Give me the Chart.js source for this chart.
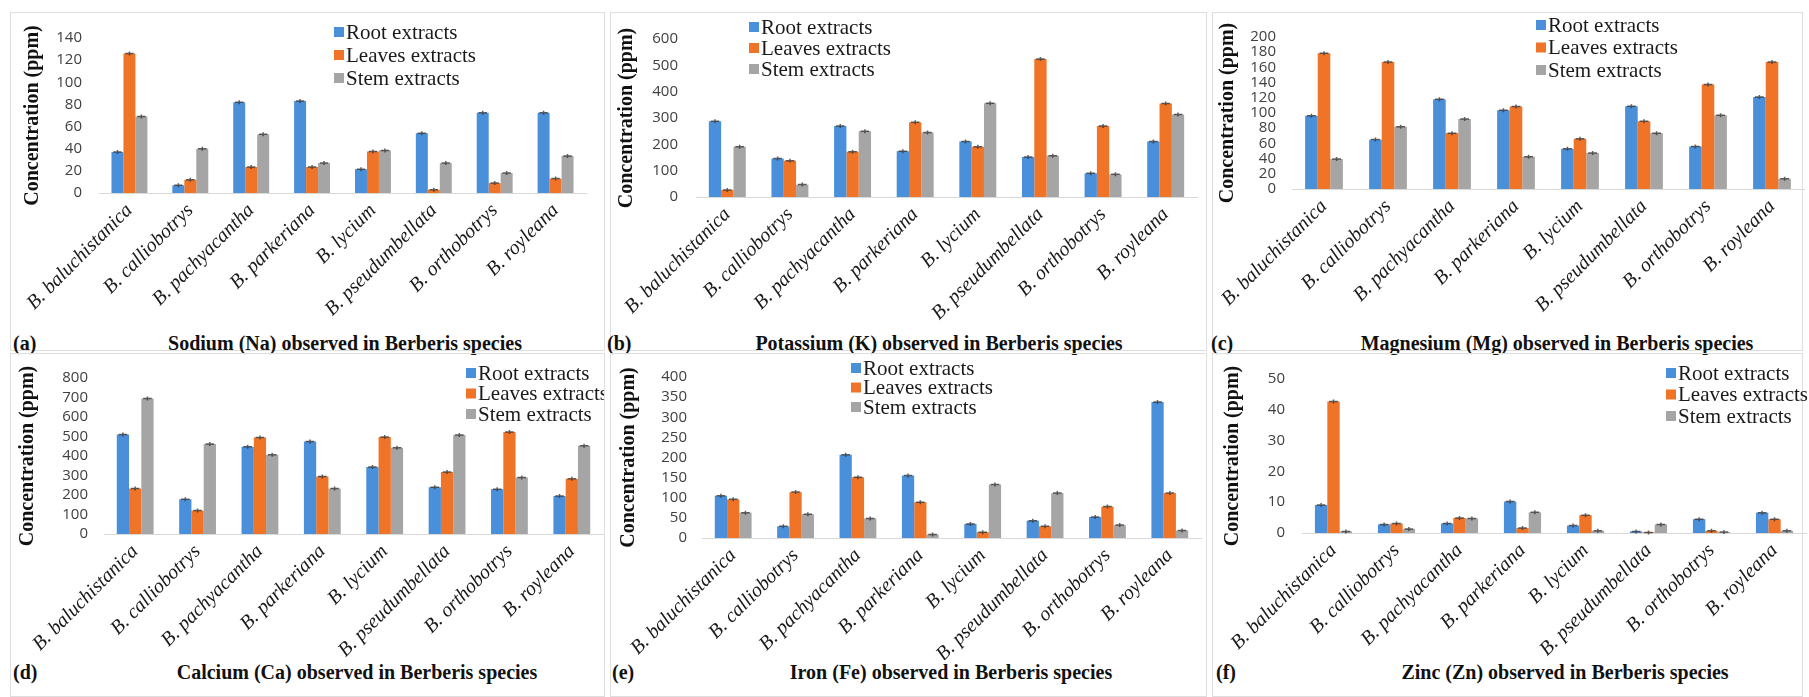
<!DOCTYPE html>
<html>
<head>
  <title>Minerals in Berberis species</title>
  <script src="https://cdn.jsdelivr.net/npm/chart.js"></script>
  <style>
    body { margin: 0; background: #fff; }
    #page { position: relative; width: 1809px; height: 697px; overflow: hidden; }
    .box { position: absolute; border: 1px solid #dedede; box-sizing: border-box; }
    .holder { position: absolute; }
    .cap { position: absolute; font: bold 20px "Liberation Serif", serif; color: #111; white-space: nowrap; transform: translateY(-50%); }
    .ttl { position: absolute; font: bold 20px "Liberation Serif", serif; color: #111; white-space: nowrap; transform: translate(-50%, -50%); }
  </style>
</head>
<body>
<div id="page"></div>
<script>
  // species on the x axis
  var species = ['B. baluchistanica', 'B. calliobotrys', 'B. pachyacantha', 'B. parkeriana',
                 'B. lycium', 'B. pseudumbellata', 'B. orthobotrys', 'B. royleana'];

  // Sodium (Na)
  var naRoot   = [37, 7, 82, 83, 21.5, 54, 72.5, 72.5];
  var naLeaves = [126, 12, 23.5, 23.5, 37.5, 3, 9, 13];
  var naStem   = [69, 40, 53, 27, 38.5, 27, 18, 33.5];

  // Potassium (K)
  var kRoot   = [288, 146, 270, 174, 211, 152, 90, 211];
  var kLeaves = [27, 138, 172, 284, 191, 524, 270, 355];
  var kStem   = [191, 47, 250, 245, 356, 157, 86, 313];

  // Magnesium (Mg)
  var mgRoot   = [96.5, 65, 118, 103.5, 53, 109, 56, 121];
  var mgLeaves = [178.5, 167, 73.5, 108.5, 66, 89, 137.5, 167];
  var mgStem   = [39.5, 82, 92, 42.5, 47.5, 73.5, 97, 13.5];

  // Calcium (Ca)
  var caRoot   = [510, 178, 448, 475, 343, 240, 230, 195];
  var caLeaves = [233, 120, 495, 295, 498, 318, 523, 283];
  var caStem   = [695, 462, 407, 233, 442, 508, 290, 453];

  // Iron (Fe)
  var feRoot   = [105, 29, 207, 155, 35, 43, 52, 338];
  var feLeaves = [96, 114, 151, 89, 14.5, 29, 78, 111.5];
  var feStem   = [63, 59, 48.5, 9, 133, 111.5, 32, 18.5];

  // Zinc (Zn)
  var znRoot   = [9.1, 2.8, 3.1, 10.2, 2.4, 0.5, 4.5, 6.6];
  var znLeaves = [42.7, 3.1, 4.9, 1.6, 5.8, 0.2, 0.7, 4.5];
  var znStem   = [0.5, 1.3, 4.7, 6.7, 0.7, 2.8, 0.3, 0.7];

  // y axis ranges: [max, step]
  var naAxis = [140, 20];
  var kAxis  = [600, 100];
  var mgAxis = [200, 20];
  var caAxis = [800, 100];
  var feAxis = [400, 50];
  var znAxis = [50, 10];

  var seriesNames = ['Root extracts', 'Leaves extracts', 'Stem extracts'];
  var colores = ['#4A8FD9', '#F07427', '#A5A5A5'];

  // legend drawn inside the plot, at a fixed spot (x, y given in canvas pixels)
  var cornerLegend = {
    id: 'cornerLegend',
    afterDraw: function(chart) {
      var o = chart.options.plugins.cornerLegend;
      if (!o) return;
      var ctx = chart.ctx;
      ctx.save();
      ctx.font = '21px "Liberation Serif"';
      ctx.textBaseline = 'middle';
      chart.data.datasets.forEach(function(ds, i) {
        var y = o.y + i * o.dy;
        ctx.fillStyle = ds.backgroundColor;
        ctx.fillRect(o.x, y - 5, 10, 10);
        ctx.fillStyle = '#1a1a1a';
        ctx.fillText(ds.label, o.x + 12, y + 1);
      });
      ctx.restore();
    }
  };

  // small dark error caps on top of every bar
  var barCaps = {
    id: 'barCaps',
    afterDatasetsDraw: function(chart) {
      var ctx = chart.ctx;
      ctx.save();
      ctx.strokeStyle = 'rgba(55,55,55,0.8)';
      ctx.lineWidth = 1.5;
      chart.data.datasets.forEach(function(ds, i) {
        chart.getDatasetMeta(i).data.forEach(function(bar) {
          var w = bar.width * 0.35;
          ctx.beginPath();
          ctx.moveTo(bar.x - w, bar.y);
          ctx.lineTo(bar.x + w, bar.y);
          ctx.moveTo(bar.x, bar.y - 2);
          ctx.lineTo(bar.x, bar.y + 2);
          ctx.stroke();
        });
      });
      ctx.restore();
    }
  };

  var page = document.getElementById('page');

  function panel(p, root, leaves, stem, axis) {
    var box = document.createElement('div');
    box.className = 'box';
    box.style.left = p.box[0] + 'px';
    box.style.top = p.box[1] + 'px';
    box.style.width = (p.box[2] - p.box[0]) + 'px';
    box.style.height = (p.box[3] - p.box[1]) + 'px';
    page.appendChild(box);

    var holder = document.createElement('div');
    holder.className = 'holder';
    holder.style.left = p.cv[0] + 'px';
    holder.style.top = p.cv[1] + 'px';
    var cv = document.createElement('canvas');
    cv.width = p.cv[2];
    cv.height = p.cv[3];
    holder.appendChild(cv);
    page.appendChild(holder);

    var cap = document.createElement('div');
    cap.className = 'cap';
    cap.textContent = p.letter;
    cap.style.left = p.letterX + 'px';
    cap.style.top = p.titleY + 'px';
    page.appendChild(cap);

    var ttl = document.createElement('div');
    ttl.className = 'ttl';
    ttl.textContent = p.title;
    ttl.style.left = p.titleX + 'px';
    ttl.style.top = p.titleY + 'px';
    page.appendChild(ttl);

    var yWidth = p.plot[0] - p.cv[0];
    var xHeight = p.cv[1] + p.cv[3] - p.plot[3];

    new Chart(cv, {
      type: 'bar',
      data: {
        labels: species,
        datasets: [
          { label: seriesNames[0], data: root, backgroundColor: colores[0] },
          { label: seriesNames[1], data: leaves, backgroundColor: colores[1] },
          { label: seriesNames[2], data: stem, backgroundColor: colores[2] }
        ]
      },
      options: {
        responsive: false,
        animation: false,
        categoryPercentage: 0.59,
        barPercentage: 1.0,
        layout: {
          padding: { left: 0, top: p.plot[2] - p.cv[1], right: p.cv[0] + p.cv[2] - p.plot[1], bottom: 0 }
        },
        plugins: {
          legend: { display: false },
          tooltip: { enabled: false },
          cornerLegend: { x: p.legend[0] - p.cv[0], y: p.legend[1] - p.cv[1], dy: p.legend[2] }
        },
        scales: {
          x: {
            grid: { display: false, drawTicks: false },
            border: { display: true, color: '#d9d9d9', width: 1 },
            ticks: {
              autoSkip: false, minRotation: 45, maxRotation: 45, padding: 6,
              color: '#1a1a1a',
              font: { family: 'Liberation Serif', style: 'italic', size: 20 }
            },
            afterFit: function(s) { s.height = xHeight; s.paddingLeft = 0; s.paddingRight = 0; }
          },
          y: {
            min: 0, max: axis[0],
            grid: { display: false, drawTicks: false },
            border: { display: false },
            ticks: {
              stepSize: axis[1], autoSkip: false, padding: p.tickPad,
              color: '#404040',
              font: { family: 'Open Sans', size: 15 }
            },
            title: {
              display: true, text: 'Concentration (ppm)', color: '#111',
              font: { family: 'Liberation Serif', weight: 'bold', size: 20 },
              padding: { top: p.yTitle - p.cv[0] - 12, bottom: 0 }
            },
            afterFit: function(s) { s.width = yWidth; }
          }
        }
      },
      plugins: [cornerLegend, barCaps]
    });
  }

  // positions in page pixels
  panel({ box: [10, 12, 605, 351], cv: [10, 12, 594, 318], plot: [99, 586, 24, 193], tickPad: 17,
          yTitle: 33, legend: [334, 32, 23], letter: '(a)', letterX: 13,
          title: 'Sodium (Na) observed in Berberis species', titleX: 345, titleY: 343 },
        naRoot, naLeaves, naStem, naAxis);
  panel({ box: [610, 12, 1207, 351], cv: [610, 12, 596, 318], plot: [696, 1197, 26, 197], tickPad: 18,
          yTitle: 627, legend: [749, 27, 21], letter: '(b)', letterX: 607,
          title: 'Potassium (K) observed in Berberis species', titleX: 939, titleY: 343 },
        kRoot, kLeaves, kStem, kAxis);
  panel({ box: [1212, 12, 1803, 351], cv: [1212, 12, 597, 318], plot: [1292, 1804, 28, 189], tickPad: 16,
          yTitle: 1228, legend: [1536, 25, 22.5], letter: '(c)', letterX: 1211,
          title: 'Magnesium (Mg) observed in Berberis species', titleX: 1557, titleY: 343 },
        mgRoot, mgLeaves, mgStem, mgAxis);
  panel({ box: [10, 353, 605, 697], cv: [10, 353, 594, 307], plot: [104, 603, 377, 534], tickPad: 16,
          yTitle: 28, legend: [466, 373, 20.5], letter: '(d)', letterX: 13,
          title: 'Calcium (Ca) observed in Berberis species', titleX: 357, titleY: 672 },
        caRoot, caLeaves, caStem, caAxis);
  panel({ box: [610, 353, 1207, 697], cv: [610, 353, 596, 307], plot: [702, 1201, 373, 538], tickPad: 15,
          yTitle: 629, legend: [851, 368, 19.5], letter: '(e)', letterX: 612,
          title: 'Iron (Fe) observed in Berberis species', titleX: 951, titleY: 672 },
        feRoot, feLeaves, feStem, feAxis);
  panel({ box: [1212, 353, 1803, 697], cv: [1212, 353, 597, 307], plot: [1302, 1806, 374, 533], tickPad: 17,
          yTitle: 1233, legend: [1666, 373, 21.5], letter: '(f)', letterX: 1216,
          title: 'Zinc (Zn) observed in Berberis species', titleX: 1565, titleY: 672 },
        znRoot, znLeaves, znStem, znAxis);
</script>
</body>
</html>
